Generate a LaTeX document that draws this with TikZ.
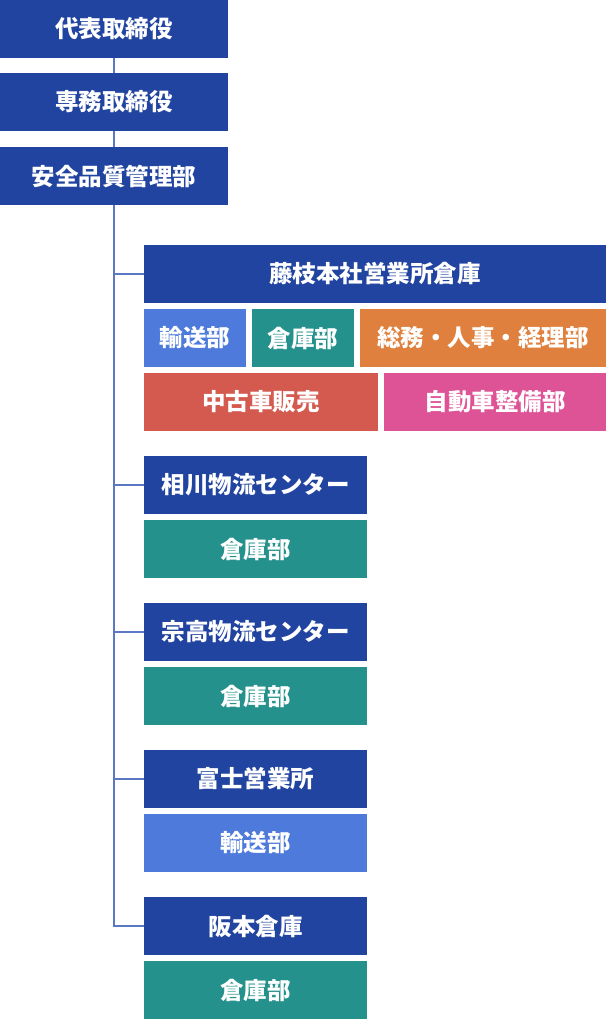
\documentclass[tikz,border=0pt]{standalone}
\usepackage{fontspec}
\setmainfont{Noto Sans CJK JP}
\definecolor{navy}{HTML}{2144A0}
\definecolor{sky}{HTML}{4E7BDB}
\definecolor{teal}{HTML}{24918C}
\definecolor{orng}{HTML}{E0803E}
\definecolor{brick}{HTML}{D45A50}
\definecolor{pink}{HTML}{DE5396}
\definecolor{linec}{HTML}{5A78C4}

\begin{document}
\begin{tikzpicture}[x=1pt, y=-1pt,
	box/.style={rectangle, fill=navy, text=white, inner sep=0pt,
		minimum height=58pt, font=\fontsize{23.5}{28}\selectfont\bfseries},
	link/.style={draw=linec, line width=1.5pt}
	]
	\useasboundingbox (0,0) rectangle (606,1020);
	% management
	\node[box, minimum width=228pt] (exec) at (114,29) {代表取締役};
	\node[box, minimum width=228pt] (senmu) at (114,102) {専務取締役};
	\node[box, minimum width=228pt] (anzen) at (114,176) {安全品質管理部};
	% fujieda
	\node[box, minimum width=462pt] (fujieda) at (375,274) {藤枝本社営業所倉庫};
	\node[box, fill=sky, minimum width=102pt] (fyuso) at (195,338) {輸送部};
	\node[box, fill=teal, minimum width=102pt] (fsoko) at (303,338) {倉庫部};
	\node[box, fill=orng, minimum width=246pt] (fsomu) at (483,338) {総務・人事・経理部};
	\node[box, fill=brick, minimum width=234pt] (fchuko) at (261,402) {中古車販売};
	\node[box, fill=pink, minimum width=222pt] (fseibi) at (495,402) {自動車整備部};
	% centers
	\node[box, minimum width=223pt] (aikawa) at (255.5,485) {相川物流センター};
	\node[box, fill=teal, minimum width=223pt] (asoko) at (255.5,549) {倉庫部};
	\node[box, minimum width=223pt] (munetaka) at (255.5,632) {宗高物流センター};
	\node[box, fill=teal, minimum width=223pt] (msoko) at (255.5,696) {倉庫部};
	\node[box, minimum width=223pt] (fuji) at (255.5,779) {富士営業所};
	\node[box, fill=sky, minimum width=223pt] (fjyuso) at (255.5,843) {輸送部};
	\node[box, minimum width=223pt] (sakamoto) at (255.5,926) {阪本倉庫};
	\node[box, fill=teal, minimum width=223pt] (ssoko) at (255.5,990) {倉庫部};
	% connectors
	\draw[link] (exec) -- (senmu);
	\draw[link] (senmu) -- (anzen);
	\draw[link] (anzen.south) |- (sakamoto.west);
	\draw[link] (anzen.south |- fujieda.west) -- (fujieda.west);
	\draw[link] (anzen.south |- aikawa.west) -- (aikawa.west);
	\draw[link] (anzen.south |- munetaka.west) -- (munetaka.west);
	\draw[link] (anzen.south |- fuji.west) -- (fuji.west);
\end{tikzpicture}
\end{document}
